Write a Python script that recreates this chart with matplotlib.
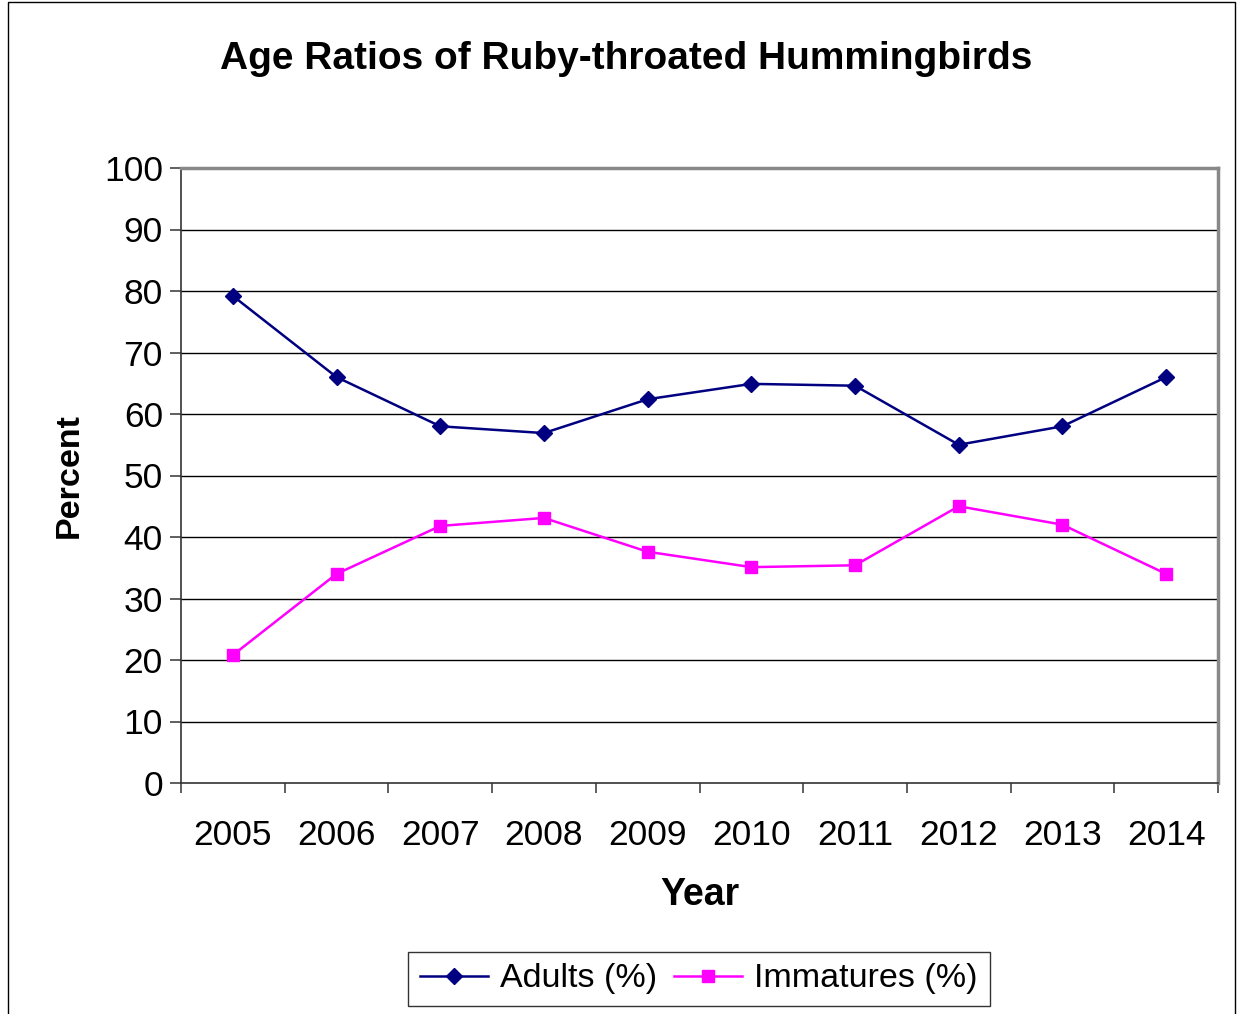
import matplotlib
matplotlib.use("Agg")
import matplotlib.pyplot as plt
from matplotlib.patches import Rectangle

years = ["2005", "2006", "2007", "2008", "2009", "2010", "2011", "2012", "2013", "2014"]
adults = [79.2, 66.0, 58.0, 56.9, 62.4, 64.9, 64.6, 55.0, 58.0, 66.0]
immatures = [20.8, 34.0, 41.8, 43.1, 37.6, 35.1, 35.4, 45.0, 42.0, 34.0]
y_ticks = [0, 10, 20, 30, 40, 50, 60, 70, 80, 90, 100]

plt.rcParams['font.family'] = ['Liberation Sans', 'DejaVu Sans']

fig = plt.figure(figsize=(12.37, 10.14), dpi=100)
ax = fig.add_axes([181/1237, 1 - 783/1014, (1218-181)/1237, (783-168)/1014])

x = list(range(len(years)))
ax.plot(x, adults, color='#000080', marker='D', markersize=8, linewidth=1.8, label='Adults (%)')
ax.plot(x, immatures, color='#FF00FF', marker='s', markersize=9, linewidth=1.8, label='Immatures (%)')

ax.set_xlim(-0.5, len(years) - 0.5)
ax.set_ylim(0, 100)
ax.set_yticks(y_ticks)
ax.set_yticklabels([str(v) for v in y_ticks], fontsize=25.5)
ax.set_xticks(x)
ax.set_xticklabels(years, fontsize=25.5)
ax.set_xticks([i - 0.5 for i in range(len(years) + 1)], minor=True)
ax.tick_params(axis='x', which='major', length=0, pad=26)
ax.tick_params(axis='x', which='minor', length=7, width=1.2, color='#444444')
ax.tick_params(axis='y', length=8, width=1.2, color='#444444', pad=5)

for v in y_ticks[1:]:
    ax.axhline(v, color='black', linewidth=1.0, zorder=0)

for s in ['top', 'right']:
    ax.spines[s].set_color('#888888')
    ax.spines[s].set_linewidth(2.5)
for s in ['left', 'bottom']:
    ax.spines[s].set_color('#333333')
    ax.spines[s].set_linewidth(1.2)

ax.set_xlabel('Year', fontsize=27, fontweight='bold', labelpad=18)
ax.set_ylabel('Percent', fontsize=24.5, fontweight='bold', labelpad=14)

fig.text(626/1237, 1 - 59/1014, 'Age Ratios of Ruby-throated Hummingbirds',
         ha='center', va='center', fontsize=28, fontweight='bold')

leg = fig.legend(loc='center', bbox_to_anchor=(699/1237, 1 - 979/1014), ncol=2,
                 fontsize=24.5, frameon=True, fancybox=False, edgecolor='black',
                 handlelength=2.0, columnspacing=0.5, handletextpad=0.35, borderpad=0.35)
leg.get_frame().set_linewidth(1.0)

fig.patches.append(Rectangle((8/1237, -0.01), (1235-8)/1237, 1 - 2/1014 + 0.01,
                             transform=fig.transFigure, fill=False, edgecolor='black',
                             linewidth=1.0))

fig.savefig('out.png', dpi=100)
